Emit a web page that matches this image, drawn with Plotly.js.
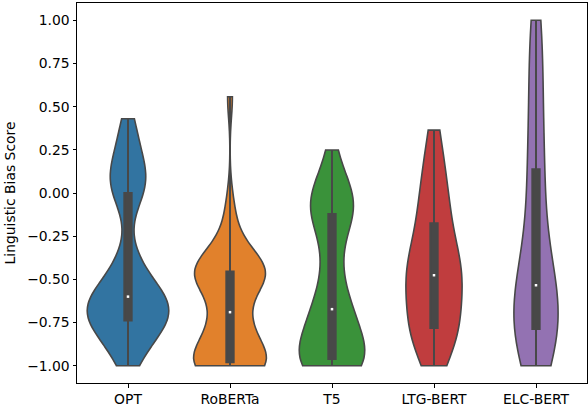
<!DOCTYPE html>
<html>
<head>
<meta charset="utf-8">
<script src="https://cdn.plot.ly/plotly-3.0.1.min.js"></script>
<style>
  html, body { margin: 0; padding: 0; background: #fff; }
  #chart { width: 588px; height: 406px; }
</style>
</head>
<body>
<div id="chart"></div>
<script>
const models = ["OPT", "RoBERTa", "T5", "LTG-BERT", "ELC-BERT"];
const colors = ["#3274a1", "#e1812c", "#3a923a", "#c03d3e", "#9372b2"];

const optScores = [
  -1, -0.95, -0.91, -0.87, -0.84, -0.81, -0.79, -0.77, -0.76, -0.745,
  -0.73, -0.715, -0.70, -0.685, -0.67, -0.66, -0.645, -0.63, -0.62, -0.605,
  -0.595, -0.575, -0.55, -0.52, -0.49, -0.45, -0.40, -0.33, -0.10, -0.02,
  0.02, 0.04, 0.07, 0.10, 0.13, 0.17, 0.22, 0.28, 0.35, 0.43,
];
const robertaScores = [
  -1, -1, -1, -1, -1, -1, -1, -1, -1, -1,
  -0.96, -0.94, -0.91, -0.88, -0.85, -0.82, -0.78, -0.74, -0.71, -0.70,
  -0.68, -0.56, -0.52, -0.50, -0.49, -0.48, -0.47, -0.465, -0.46, -0.455,
  -0.455, -0.45, -0.43, -0.41, -0.38, -0.34, -0.28, -0.20, -0.06, 0.557,
];
const t5Scores = [
  -1, -1, -1, -1, -0.995, -0.99, -0.985, -0.98, -0.975, -0.965,
  -0.957, -0.90, -0.86, -0.83, -0.81, -0.79, -0.77, -0.75, -0.72, -0.685,
  -0.66, -0.62, -0.57, -0.51, -0.44, -0.36, -0.28, -0.21, -0.16, -0.13,
  -0.112, -0.09, -0.07, -0.05, -0.03, 0.0, 0.03, 0.07, 0.13, 0.249,
];
const ltgScores = [
  -1, -0.93, -0.88, -0.85, -0.83, -0.815, -0.805, -0.795, -0.79, -0.785,
  -0.779, -0.72, -0.66, -0.61, -0.57, -0.54, -0.52, -0.50, -0.49, -0.485,
  -0.467, -0.455, -0.44, -0.42, -0.40, -0.37, -0.33, -0.28, -0.23, -0.19,
  -0.16, -0.11, -0.07, -0.03, 0.02, 0.07, 0.13, 0.20, 0.28, 0.364,
];
const elcScores = [
  -1, -0.97, -0.94, -0.91, -0.88, -0.86, -0.84, -0.82, -0.81, -0.80,
  -0.776, -0.75, -0.72, -0.69, -0.66, -0.63, -0.61, -0.59, -0.565, -0.545,
  -0.523, -0.48, -0.43, -0.37, -0.30, -0.22, -0.14, -0.05, 0.04, 0.10,
  0.174, 0.26, 0.35, 0.45, 0.55, 0.66, 0.77, 0.88, 0.96, 1.0,
];

const scores = [optScores, robertaScores, t5Scores, ltgScores, elcScores];
const bandwidths = [0.12, 0.12, 0.14, 0.18, 0.27];

const yTicks = [-1, -0.75, -0.5, -0.25, 0, 0.25, 0.5, 0.75, 1];

const gray = "#484848";
const font = { family: "DejaVu Sans, sans-serif", size: 13.9, color: "#000" };

// same interpolation plotly uses for its box quartiles
function median(vals) {
  const s = vals.slice().sort((a, b) => a - b);
  let i = s.length * 0.5 - 0.5;
  const lo = Math.floor(i);
  const hi = Math.min(lo + 1, s.length - 1);
  return s[lo] + (s[hi] - s[lo]) * (i - lo);
}

const traces = models.map((m, i) => ({
  type: "violin",
  name: m,
  x0: m,
  y: scores[i],
  spanmode: "hard",
  bandwidth: bandwidths[i],
  scalegroup: "all",
  scalemode: "width",
  fillcolor: colors[i],
  opacity: 1,
  line: { color: gray, width: 1.6 },
  points: false,
  meanline: { visible: false },
  box: {
    visible: true,
    width: 0.09,
    fillcolor: gray,
    line: { color: gray, width: 2 },
  },
  hoverinfo: "skip",
}));

// seaborn's inner whisker runs from min to max
models.forEach((m, i) => {
  traces.push({
    type: "scatter",
    mode: "lines",
    x: [m, m],
    y: [Math.min(...scores[i]), Math.max(...scores[i])],
    line: { color: gray, width: 2 },
    hoverinfo: "skip",
  });
});

traces.push({
  type: "scatter",
  mode: "markers",
  x: models,
  y: scores.map(median),
  marker: { symbol: "square", size: 2.5, color: "#fff", line: { width: 0 } },
  hoverinfo: "skip",
});

const layout = {
  width: 588,
  height: 406,
  margin: { l: 77, r: 1, t: 3, b: 23 },
  paper_bgcolor: "#fff",
  plot_bgcolor: "#fff",
  font,
  showlegend: false,
  violinmode: "overlay",
  violingap: 0.2,
  violingroupgap: 0,
  xaxis: {
    type: "category",
    categoryarray: models,
    range: [-0.5, 4.5],
    showline: true,
    mirror: true,
    linecolor: "#000",
    linewidth: 1,
    ticks: "outside",
    ticklen: 3.5,
    tickcolor: "#000",
    showgrid: false,
    zeroline: false,
    tickfont: font,
  },
  yaxis: {
    range: [-1.1, 1.1],
    tickvals: yTicks,
    tickformat: ".2f",
    showline: true,
    mirror: true,
    linecolor: "#000",
    linewidth: 1,
    ticks: "outside",
    ticklen: 3.5,
    tickcolor: "#000",
    showgrid: false,
    zeroline: false,
    tickfont: font,
    title: { text: "Linguistic Bias Score", font, standoff: 8 },
  },
};

Plotly.newPlot("chart", traces, layout, { displayModeBar: false, staticPlot: true });
</script>
</body>
</html>
